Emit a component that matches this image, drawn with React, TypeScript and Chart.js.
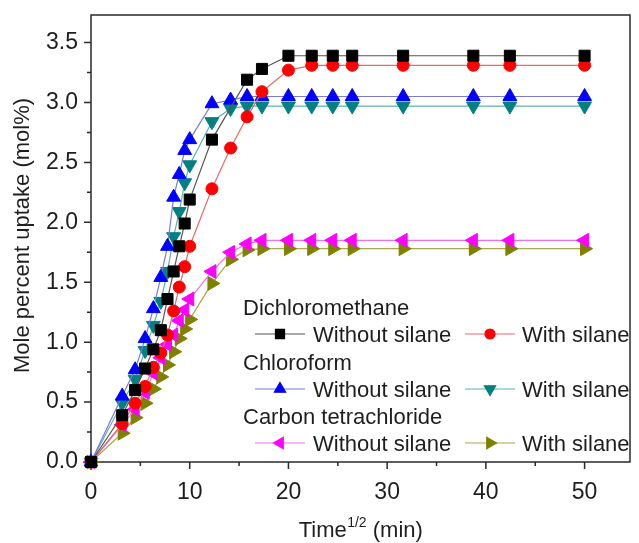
import React, { useEffect, useRef } from "react";
import { Chart, registerables } from "chart.js";
import { drawPoint } from "chart.js/helpers";

Chart.register(...registerables);

// ---- Data (x = Time^1/2, y = mole percent uptake) ----
const X_DCM_WITHOUT = [0, 3.16, 4.47, 5.48, 6.32, 7.07, 7.75, 8.37, 8.94, 9.49, 10, 12.25, 15.81, 17.32, 20, 22.36, 24.49, 26.46, 31.62, 38.73, 42.43, 50];
const X_FULL = [0, 3.16, 4.47, 5.48, 6.32, 7.07, 7.75, 8.37, 8.94, 9.49, 10, 12.25, 14.14, 15.81, 17.32, 20, 22.36, 24.49, 26.46, 31.62, 38.73, 42.43, 50];

const DCM_WITHOUT = [0, 0.39, 0.6, 0.78, 0.94, 1.1, 1.36, 1.59, 1.8, 1.99, 2.19, 2.69, 3.19, 3.28, 3.39, 3.39, 3.39, 3.39, 3.39, 3.39, 3.39, 3.39];
const DCM_WITH = [0, 0.32, 0.49, 0.63, 0.79, 0.91, 1.06, 1.26, 1.46, 1.63, 1.8, 2.28, 2.62, 2.88, 3.09, 3.27, 3.31, 3.31, 3.31, 3.31, 3.31, 3.31, 3.31];
const CHL_WITHOUT = [0, 0.55, 0.77, 1.03, 1.28, 1.54, 1.8, 2.21, 2.4, 2.6, 2.69, 2.99, 3.02, 3.05, 3.05, 3.05, 3.05, 3.05, 3.05, 3.05, 3.05, 3.05, 3.05];
const CHL_WITH = [0, 0.49, 0.69, 0.93, 1.14, 1.34, 1.59, 1.88, 2.09, 2.33, 2.48, 2.84, 2.95, 2.97, 2.97, 2.97, 2.97, 2.97, 2.97, 2.97, 2.97, 2.97, 2.97];
const CCL4_WITHOUT = [0, 0.31, 0.44, 0.58, 0.74, 0.87, 0.98, 1.06, 1.18, 1.27, 1.36, 1.59, 1.75, 1.82, 1.85, 1.85, 1.85, 1.85, 1.85, 1.85, 1.85, 1.85, 1.85];
const CCL4_WITH = [0, 0.24, 0.37, 0.49, 0.61, 0.71, 0.81, 0.92, 1.03, 1.11, 1.19, 1.49, 1.69, 1.77, 1.78, 1.78, 1.78, 1.78, 1.78, 1.78, 1.78, 1.78, 1.78];

const X_MAJOR = [0, 10, 20, 30, 40, 50];
const X_MINOR = [5, 15, 25, 35, 45];
const Y_MAJOR = [0, 0.5, 1.0, 1.5, 2.0, 2.5, 3.0, 3.5];
const Y_MINOR = [0.25, 0.75, 1.25, 1.75, 2.25, 2.75, 3.25];

const GROUPS = ["Dichloromethane", "Chloroform", "Carbon tetrachloride"];
const SUB_LABELS = ["Without silane", "With silane"];
const Y_TITLE = "Mole percent uptake (mol%)";

const FONT = "'Liberation Sans', Arial, sans-serif";
const TEXT = "#1e1e1e";
const AXIS = "#2a2a2a";

type S = { x: number[]; y: number[]; color: string; line: string; style: string; rot: number; r: number; lr: number };
const SERIES: S[] = [
  { x: X_DCM_WITHOUT, y: DCM_WITHOUT, color: "#000000", line: "#555555", style: "rect", rot: 0, r: 7.8, lr: 6.4 },
  { x: X_FULL, y: DCM_WITH, color: "#ff0000", line: "#e86a6a", style: "circle", rot: 0, r: 6, lr: 5 },
  { x: X_FULL, y: CHL_WITHOUT, color: "#0000ff", line: "#7b7bd6", style: "triangle", rot: 0, r: 8, lr: 6.5 },
  { x: X_FULL, y: CHL_WITH, color: "#008080", line: "#5fb0b0", style: "triangle", rot: 180, r: 8, lr: 6.5 },
  { x: X_FULL, y: CCL4_WITHOUT, color: "#ff00ff", line: "#f070f0", style: "triangle", rot: 270, r: 8, lr: 6.5 },
  { x: X_FULL, y: CCL4_WITH, color: "#808000", line: "#a8a850", style: "triangle", rot: 90, r: 8, lr: 6.5 },
];

const zeroPad = (s: any) => {
  s.paddingTop = 0;
  s.paddingBottom = 0;
  s.paddingLeft = 0;
  s.paddingRight = 0;
};

const framePlugin = {
  id: "frameTicks",
  beforeDatasetsDraw(chart: any) {
    const { ctx, chartArea, scales } = chart;
    const { left, right, top, bottom } = chartArea;
    ctx.save();
    ctx.strokeStyle = AXIS;
    ctx.lineWidth = 1.5;
    ctx.strokeRect(left, top, right - left, bottom - top);
    ctx.beginPath();
    X_MAJOR.forEach((v) => {
      const p = scales.x.getPixelForValue(v);
      ctx.moveTo(p, bottom);
      ctx.lineTo(p, bottom + 7);
    });
    X_MINOR.forEach((v) => {
      const p = scales.x.getPixelForValue(v);
      ctx.moveTo(p, bottom);
      ctx.lineTo(p, bottom + 4);
    });
    Y_MAJOR.forEach((v) => {
      const p = scales.y.getPixelForValue(v);
      ctx.moveTo(left, p);
      ctx.lineTo(left - 7, p);
    });
    Y_MINOR.forEach((v) => {
      const p = scales.y.getPixelForValue(v);
      ctx.moveTo(left, p);
      ctx.lineTo(left - 4, p);
    });
    ctx.stroke();
    ctx.restore();
  },
  afterDraw(chart: any) {
    const { ctx, chartArea } = chart;
    const { left, right, top, bottom } = chartArea;
    ctx.save();
    ctx.fillStyle = TEXT;
    // Y title
    ctx.save();
    ctx.translate(23, (top + bottom) / 2 - 3);
    ctx.rotate(-Math.PI / 2);
    ctx.font = `22px ${FONT}`;
    ctx.textAlign = "center";
    ctx.textBaseline = "middle";
    ctx.fillText(Y_TITLE, 0, 0);
    ctx.restore();
    // X title with superscript
    const big = `22px ${FONT}`;
    const small = `14px ${FONT}`;
    ctx.textBaseline = "alphabetic";
    ctx.textAlign = "left";
    ctx.font = big;
    const w1 = ctx.measureText("Time").width;
    const w3 = ctx.measureText(" (min)").width;
    ctx.font = small;
    const w2 = ctx.measureText("1/2").width;
    const total = w1 + w2 + w3;
    let xx = (left + right) / 2 - total / 2;
    const base = 537;
    ctx.font = big;
    ctx.fillText("Time", xx, base);
    xx += w1 + 0.5;
    ctx.font = small;
    ctx.fillText("1/2", xx, base - 10);
    xx += w2;
    ctx.font = big;
    ctx.fillText(" (min)", xx, base);

    // Legend
    const headX = 243;
    const headBase = [315, 370, 424];
    const colLine = [[255, 305], [465, 515]];
    const colText = [313, 522];
    ctx.font = `22px ${FONT}`;
    GROUPS.forEach((g, gi) => {
      ctx.fillStyle = TEXT;
      ctx.fillText(g, headX, headBase[gi]);
      const rowBase = headBase[gi] + 27;
      const lineY = rowBase - 8;
      [0, 1].forEach((k) => {
        const s = SERIES[gi * 2 + k];
        ctx.strokeStyle = s.line;
        ctx.lineWidth = 1.2;
        ctx.beginPath();
        ctx.moveTo(colLine[k][0], lineY);
        ctx.lineTo(colLine[k][1], lineY);
        ctx.stroke();
        ctx.fillStyle = s.color;
        ctx.strokeStyle = s.color;
        drawPoint(ctx, { pointStyle: s.style, radius: s.lr, rotation: s.rot, borderWidth: 1 } as any, (colLine[k][0] + colLine[k][1]) / 2, lineY);
        ctx.fillStyle = TEXT;
        ctx.fillText(SUB_LABELS[k], colText[k], rowBase);
      });
    });
    ctx.restore();
  },
};

export default function App() {
  const ref = useRef<HTMLCanvasElement>(null);
  useEffect(() => {
    if (!ref.current) return;
    const chart = new Chart(ref.current, {
      type: "scatter",
      data: {
        datasets: SERIES.map((s, i) => ({
          label: `${GROUPS[Math.floor(i / 2)]} ${SUB_LABELS[i % 2]}`,
          data: s.x.map((xv, j) => ({ x: xv, y: s.y[j] })),
          showLine: true,
          borderColor: s.line,
          borderWidth: 1.2,
          backgroundColor: s.color,
          pointBackgroundColor: s.color,
          pointBorderColor: s.color,
          pointBorderWidth: 1,
          pointStyle: s.style as any,
          pointRotation: s.rot,
          pointRadius: s.r,
          pointHoverRadius: s.r,
          clip: false as any,
          tension: 0,
        })),
      },
      options: {
        animation: false,
        responsive: false,
        devicePixelRatio: 1,
        layout: { padding: { top: 15, right: 2, left: 0, bottom: 0 } },
        plugins: { legend: { display: false }, tooltip: { enabled: false } },
        scales: {
          x: {
            type: "linear",
            min: 0,
            max: 54.6,
            afterBuildTicks: (s: any) => {
              s.ticks = X_MAJOR.map((v) => ({ value: v }));
            },
            afterFit: (s: any) => {
              s.height = 81;
              zeroPad(s);
            },
            ticks: {
              font: { size: 23, family: FONT },
              color: TEXT,
              padding: 17,
              maxRotation: 0,
              autoSkip: false,
              callback: (v: any) => String(v),
            },
            grid: { display: true, drawOnChartArea: false, drawTicks: false },
            border: { display: false },
          },
          y: {
            type: "linear",
            min: 0,
            max: 3.73,
            afterBuildTicks: (s: any) => {
              s.ticks = Y_MAJOR.map((v) => ({ value: v }));
            },
            afterFit: (s: any) => {
              s.width = 91;
              zeroPad(s);
            },
            ticks: {
              font: { size: 23, family: FONT },
              color: TEXT,
              padding: 13,
              autoSkip: false,
              callback: (v: any) => Number(v).toFixed(1),
            },
            grid: { display: true, drawOnChartArea: false, drawTicks: false },
            border: { display: false },
          },
        },
      },
      plugins: [framePlugin],
    });
    return () => chart.destroy();
  }, []);
  return (
    <div style={{ position: "fixed", left: 0, top: 0, width: 639, height: 543, background: "#fff" }}>
      <canvas ref={ref} width={639} height={543} style={{ display: "block" }} />
    </div>
  );
}
